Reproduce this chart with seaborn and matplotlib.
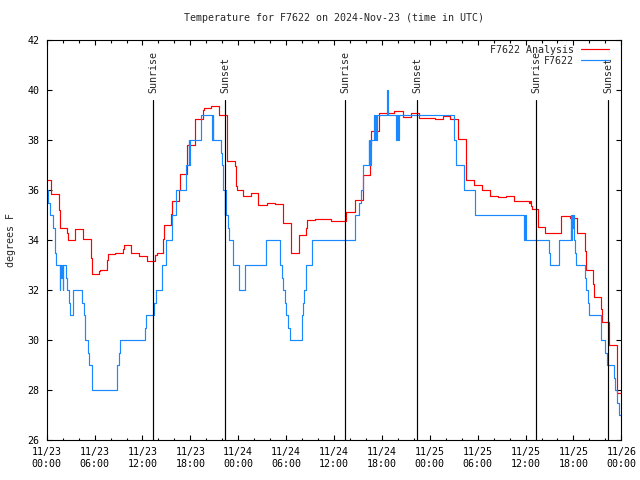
import numpy as np
import pandas as pd
import matplotlib
matplotlib.use('Agg')
import matplotlib.pyplot as plt
import matplotlib.dates as mdates
import matplotlib.transforms as mtransforms
import seaborn as sns

start = pd.Timestamp('2024-11-23 00:00')

# analysis (red), hours after 11/23 00:00 UTC, step values in F
red_hours = [0.0, 0.58, 1.58, 1.65, 2.58, 2.65, 3.58, 4.58, 5.58, 5.65,
             6.58, 6.65, 7.58, 7.65, 8.58, 9.58, 9.65, 10.58, 11.58, 12.58,
             13.6, 13.8, 14.58, 14.65, 15.58, 15.65, 16.58, 16.65, 17.58, 18.58,
             19.58, 19.7, 20.58, 21.58, 22.58, 23.58, 23.75, 23.85, 24.62, 25.62,
             26.5, 27.58, 28.6, 29.58, 30.58, 30.65, 31.58, 31.65, 32.55, 32.6,
             33.58, 35.58, 37.45, 38.58, 39.58, 40.55, 40.62, 41.58, 43.55, 44.6,
             45.6, 46.6, 47.6, 48.6, 49.6, 50.5, 51.5, 52.5, 53.55, 54.5,
             55.5, 56.58, 57.58, 58.5, 60.4, 60.55, 60.7, 60.85, 61.5, 62.5,
             64.45, 65.6, 66.4, 66.5, 67.5, 67.6, 68.5, 68.6, 69.5, 69.6,
             70.5, 71.5, 72.0]
red_vals = [36.4, 35.85, 35.2, 34.5, 34.3, 34.0, 34.45, 34.05, 33.3, 32.65,
            32.75, 32.8, 33.2, 33.45, 33.5, 33.65, 33.8, 33.5, 33.35, 33.15,
            33.4, 33.5, 34.05, 34.6, 35.05, 35.55, 36.0, 36.65, 37.8, 38.85,
            39.2, 39.3, 39.35, 39.0, 37.15, 36.95, 36.15, 36.0, 35.77, 35.88,
            35.4, 35.48, 35.44, 34.7, 34.1, 33.48, 33.85, 34.2, 34.5, 34.8,
            34.84, 34.77, 35.13, 35.6, 36.6, 37.8, 38.37, 39.08, 39.16, 38.93,
            39.08, 38.9, 38.88, 38.84, 38.95, 38.85, 38.04, 36.4, 36.2, 36.0,
            35.77, 35.73, 35.77, 35.57, 35.5, 35.57, 35.35, 35.24, 34.53, 34.3,
            34.97, 34.9, 34.67, 34.3, 33.57, 32.8, 32.24, 31.73, 31.24, 30.73,
            29.81, 27.9, 27.9]

# station observations (blue)
obs_hours = [0.0, 0.17, 0.37, 0.83, 1.0, 1.12, 1.66, 1.72, 1.76, 1.8,
             1.84, 1.88, 1.92, 1.96, 2.0, 2.05, 2.41, 2.5, 2.83, 2.95,
             3.3, 4.45, 4.62, 4.83, 5.2, 5.33, 5.7, 8.75, 9.08, 9.2,
             12.37, 12.5, 13.45, 13.66, 14.45, 14.9, 15.7, 16.25, 17.4, 17.83,
             17.86, 17.9, 19.37, 20.75, 20.8, 20.85, 21.87, 21.95, 22.05, 22.15,
             22.3, 22.35, 22.4, 22.45, 22.7, 22.85, 23.3, 24.08, 24.8, 27.5,
             29.25, 29.45, 29.6, 29.8, 30.0, 30.2, 30.45, 32.0, 32.15, 32.3,
             32.5, 33.3, 38.6, 39.16, 39.41, 39.58, 40.35, 40.4, 40.45, 40.5,
             40.62, 40.95, 41.1, 41.2, 41.3, 41.37, 42.65, 42.75, 43.8, 43.9,
             44.0, 44.2, 51.04, 51.3, 52.3, 53.62, 59.8, 59.9, 60.08, 62.95,
             63.05, 64.2, 65.65, 65.75, 65.8, 65.9, 66.0, 66.1, 66.25, 66.35,
             67.4, 67.6, 67.8, 68.0, 69.4, 69.5, 70.0, 70.2, 71.1, 71.25,
             71.5, 71.7, 72.0]
obs_vals = [36.0, 35.5, 35.0, 34.5, 33.5, 33.0, 32.0, 33.0, 32.5, 33.0,
            32.5, 33.0, 32.5, 33.0, 32.0, 33.0, 32.5, 32.0, 31.5, 31.0,
            32.0, 31.5, 31.0, 30.0, 29.5, 29.0, 28.0, 29.0, 29.5, 30.0,
            30.5, 31.0, 31.5, 32.0, 33.0, 34.0, 35.0, 36.0, 37.0, 38.0,
            37.0, 38.0, 39.0, 38.0, 39.0, 38.0, 37.5, 37.0, 36.5, 36.0,
            35.5, 35.0, 36.0, 35.0, 34.5, 34.0, 33.0, 32.0, 33.0, 34.0,
            33.0, 32.5, 32.0, 31.5, 31.0, 30.5, 30.0, 31.0, 31.5, 32.0,
            33.0, 34.0, 35.0, 35.5, 36.0, 37.0, 38.0, 37.0, 38.0, 37.0,
            38.0, 39.0, 38.0, 39.0, 38.0, 39.0, 40.0, 39.0, 38.0, 39.0,
            38.0, 39.0, 38.0, 37.0, 36.0, 35.0, 34.0, 35.0, 34.0, 33.5,
            33.0, 34.0, 35.0, 34.0, 35.0, 34.5, 35.0, 34.0, 33.5, 33.0,
            32.5, 32.0, 31.5, 31.0, 30.5, 30.0, 29.5, 29.0, 28.5, 28.0,
            27.5, 27.0, 27.0]

sun_hours = [13.36, 22.38, 37.4, 46.42, 61.35, 70.37]
sun_labels = ['Sunrise', 'Sunset', 'Sunrise', 'Sunset', 'Sunrise', 'Sunset']

red_df = pd.DataFrame({'time': start + pd.to_timedelta(red_hours, unit='h'), 'temp': red_vals})
obs_df = pd.DataFrame({'time': start + pd.to_timedelta(obs_hours, unit='h'), 'temp': obs_vals})
sun_times = start + pd.to_timedelta(sun_hours, unit='h')

sns.set_style('ticks')
plt.rcParams['font.family'] = ['DejaVu Sans Mono']
plt.rcParams['font.size'] = 7.2

fig = plt.figure(figsize=(6.4, 4.8), dpi=100)
ax = fig.add_axes([0.073, 0.0833, 0.8978, 0.8333])

sns.lineplot(data=red_df, x='time', y='temp', ax=ax, color='#ff0000', lw=0.85,
             drawstyle='steps-post', estimator=None, label='F7622 Analysis')
sns.lineplot(data=obs_df, x='time', y='temp', ax=ax, color='#1a88ff', lw=0.85,
             drawstyle='steps-post', estimator=None, label='F7622')

trans = mtransforms.blended_transform_factory(ax.transData, ax.transAxes)
for t, lab in zip(sun_times, sun_labels):
    ax.axvline(t, ymin=0, ymax=0.85, color='black', lw=0.85)
    ax.text(t, 0.868, lab, transform=trans, rotation=90, ha='center', va='bottom', fontsize=7.2)

ax.set_xlim(start, start + pd.Timedelta(hours=72))
ax.set_ylim(26, 42)
ax.set_yticks(np.arange(26, 43, 2))
ax.xaxis.set_major_locator(mdates.HourLocator(byhour=[0, 6, 12, 18]))
ax.xaxis.set_minor_locator(mdates.HourLocator(interval=2))
ax.xaxis.set_major_formatter(mdates.DateFormatter('%m/%d\n%H:%M'))

ax.tick_params(which='both', direction='in', top=True, right=True, width=0.8, colors='black')
ax.tick_params(which='major', length=3.6)
ax.tick_params(which='minor', length=1.8)
ax.tick_params(axis='y', pad=5.5)
ax.tick_params(axis='x', pad=5)
for s in ax.spines.values():
    s.set_color('black')
    s.set_linewidth(0.8)

ax.set_title('Temperature for F7622 on 2024-Nov-23 (time in UTC)', fontsize=7.2, pad=14)
ax.set_xlabel('')
ax.set_ylabel('degrees F', fontsize=7.2, labelpad=8)

ax.legend(loc='upper right', bbox_to_anchor=(0.979, 0.988), frameon=False, markerfirst=False,
          handlelength=2.86, handletextpad=0.64, labelspacing=0.1, borderpad=0, borderaxespad=0,
          fontsize=7.2)

fig.savefig('out.png', dpi=100)
